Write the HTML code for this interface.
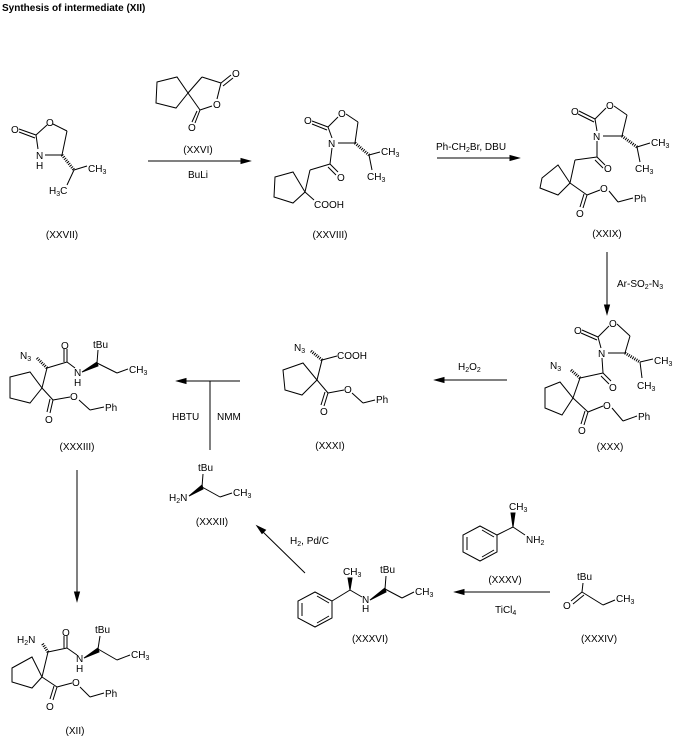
<!DOCTYPE html>
<html><head><meta charset="utf-8"><style>
body{margin:0;background:#fff}
svg{display:block}
text{font-family:"Liberation Sans",sans-serif;font-size:10px;fill:#000}
.l{text-anchor:middle}
line,polyline,polygon{stroke:#000;stroke-width:1;fill:none}
.w{fill:#000}
.h{stroke-dasharray:1 1.2;stroke-width:3}
</style></head><body>
<svg width="678" height="738" viewBox="0 0 678 738">
<text x="2" y="11" style="font-weight:bold;font-size:10px">Synthesis of intermediate (XII)</text>

<!-- XXVII -->
<text x="11" y="133">O</text>
<line x1="19" y1="129" x2="36" y2="135"/><line x1="19" y1="132" x2="35" y2="138"/>
<line x1="36" y1="135" x2="47" y2="125"/><line x1="53" y1="124" x2="67" y2="131"/>
<text x="46" y="126">O</text>
<line x1="67" y1="131" x2="62" y2="155"/><line x1="62" y1="155" x2="45" y2="155"/>
<line x1="36" y1="135" x2="38" y2="149"/>
<text x="36" y="159">N</text><text x="36" y="169">H</text>
<line class="h" x1="62" y1="155" x2="74" y2="170"/>
<line x1="74" y1="170" x2="87" y2="166"/><text x="88" y="172">CH<tspan font-size="7" dy="2">3</tspan></text>
<line x1="74" y1="170" x2="67" y2="185"/><text x="49" y="194">H<tspan font-size="7" dy="2">3</tspan><tspan dy="-2">C</tspan></text>
<text class="l" x="62" y="238">(XXVII)</text>

<!-- XXVI -->
<polygon points="157,82 177,77 188,93 176,108 156,103"/>
<line x1="188" y1="93" x2="202" y2="77"/><line x1="202" y1="77" x2="221" y2="83"/>
<line x1="221" y1="83" x2="231" y2="75"/><line x1="223" y1="86" x2="233" y2="78"/>
<text x="232" y="77">O</text>
<line x1="221" y1="83" x2="217" y2="99"/><text x="213" y="108">O</text>
<line x1="212" y1="106" x2="200" y2="110"/><line x1="188" y1="93" x2="200" y2="110"/>
<line x1="200" y1="110" x2="195" y2="123"/><line x1="197" y1="111" x2="192" y2="122"/>
<text x="188" y="131">O</text>
<text class="l" x="198" y="153">(XXVI)</text>
<line x1="148" y1="161" x2="247" y2="161"/><polygon class="w" points="250,161 241,158.5 241,163.5"/>
<text class="l" x="198" y="178">BuLi</text>

<!-- XXVIII -->
<text x="304" y="124">O</text>
<line x1="312" y1="121" x2="328" y2="127"/><line x1="312" y1="124" x2="327" y2="130"/>
<line x1="328" y1="127" x2="338" y2="117"/><text x="338" y="117">O</text>
<line x1="346" y1="114" x2="358" y2="122"/><line x1="358" y1="122" x2="355" y2="143"/>
<line x1="355" y1="143" x2="338" y2="143"/><line x1="328" y1="127" x2="332" y2="138"/>
<text x="328" y="147">N</text>
<line class="h" x1="355" y1="143" x2="369" y2="155"/>
<line x1="369" y1="155" x2="380" y2="152"/><text x="381" y="155">CH<tspan font-size="7" dy="2">3</tspan></text>
<line x1="369" y1="155" x2="372" y2="170"/><text x="367" y="180">CH<tspan font-size="7" dy="2">3</tspan></text>
<line x1="332" y1="148" x2="330" y2="164"/>
<line x1="330" y1="164" x2="338" y2="172"/><line x1="328" y1="167" x2="336" y2="175"/>
<text x="337" y="181">O</text>
<polygon points="275,177 293,172 305,192 293,203 274,197"/>
<line x1="305" y1="192" x2="310" y2="170"/><line x1="310" y1="170" x2="330" y2="164"/>
<line x1="305" y1="192" x2="314" y2="200"/><text x="314" y="208">COOH</text>
<text class="l" x="330" y="238">(XXVIII)</text>

<!-- arrow 2 -->
<text x="436" y="150">Ph-CH<tspan font-size="7" dy="2">2</tspan><tspan dy="-2">Br, DBU</tspan></text>
<line x1="437" y1="158" x2="516" y2="158"/><polygon class="w" points="519,158 510,155.5 510,160.5"/>

<!-- XXIX -->
<text x="571" y="115">O</text>
<line x1="579" y1="111" x2="595" y2="119"/><line x1="578" y1="114" x2="594" y2="122"/>
<line x1="595" y1="119" x2="606" y2="108"/><text x="606" y="109">O</text>
<line x1="614" y1="106" x2="627" y2="115"/><line x1="627" y1="115" x2="622" y2="136"/>
<line x1="622" y1="136" x2="603" y2="136"/><line x1="595" y1="119" x2="597" y2="131"/>
<text x="593" y="140">N</text>
<line class="h" x1="622" y1="136" x2="637" y2="147"/>
<line x1="637" y1="147" x2="650" y2="143"/><text x="651" y="146">CH<tspan font-size="7" dy="2">3</tspan></text>
<line x1="637" y1="147" x2="640" y2="162"/><text x="635" y="172">CH<tspan font-size="7" dy="2">3</tspan></text>
<line x1="597" y1="141" x2="597" y2="157"/>
<line x1="597" y1="157" x2="605" y2="165"/><line x1="595" y1="160" x2="603" y2="168"/>
<text x="604" y="172">O</text>
<line x1="597" y1="157" x2="575" y2="160"/><line x1="575" y1="160" x2="570" y2="183"/>
<polygon points="542,178 558,165 570,183 558,195 540,188"/>
<line x1="570" y1="183" x2="587" y2="195"/>
<line x1="587" y1="195" x2="583" y2="208"/><line x1="584" y1="194" x2="580" y2="207"/>
<text x="576" y="217">O</text>
<line x1="587" y1="195" x2="600" y2="190"/><text x="600" y="192">O</text>
<line x1="609" y1="191" x2="618" y2="202"/><line x1="618" y1="202" x2="633" y2="198"/>
<text x="634" y="202">Ph</text>
<text class="l" x="607" y="237">(XXIX)</text>

<!-- down arrow -->
<line x1="607" y1="252" x2="607" y2="310"/><polygon class="w" points="607,314 604.5,305 609.5,305"/>
<text x="617" y="287">Ar-SO<tspan font-size="7" dy="2">2</tspan><tspan dy="-2">-N</tspan><tspan font-size="7" dy="2">3</tspan></text>

<!-- XXX -->
<text x="574" y="334">O</text>
<line x1="582" y1="330" x2="598" y2="337"/><line x1="581" y1="333" x2="597" y2="340"/>
<line x1="598" y1="337" x2="609" y2="326"/><text x="609" y="327">O</text>
<line x1="617" y1="324" x2="630" y2="336"/><line x1="630" y1="336" x2="625" y2="353"/>
<line x1="625" y1="353" x2="608" y2="353"/><line x1="598" y1="337" x2="601" y2="348"/>
<text x="598" y="357">N</text>
<line class="h" x1="625" y1="353" x2="640" y2="362"/>
<line x1="640" y1="362" x2="653" y2="359"/><text x="654" y="364">CH<tspan font-size="7" dy="2">3</tspan></text>
<line x1="640" y1="362" x2="642" y2="378"/><text x="637" y="389">CH<tspan font-size="7" dy="2">3</tspan></text>
<line x1="602" y1="358" x2="603" y2="373"/>
<line x1="603" y1="373" x2="611" y2="381"/><line x1="601" y1="376" x2="609" y2="384"/>
<text x="609" y="391">O</text>
<line x1="603" y1="373" x2="580" y2="378"/>
<line class="h" x1="580" y1="378" x2="571" y2="370"/>
<text x="550" y="369">N<tspan font-size="7" dy="2">3</tspan></text>
<line x1="580" y1="378" x2="573" y2="398"/>
<polygon points="545,388 560,382 573,398 562,415 545,408"/>
<line x1="573" y1="398" x2="588" y2="412"/>
<line x1="588" y1="412" x2="584" y2="425"/><line x1="585" y1="411" x2="581" y2="424"/>
<text x="578" y="434">O</text>
<line x1="588" y1="412" x2="603" y2="406"/><text x="603" y="409">O</text>
<line x1="612" y1="408" x2="623" y2="421"/><line x1="623" y1="421" x2="637" y2="416"/>
<text x="638" y="420">Ph</text>
<text class="l" x="610" y="450">(XXX)</text>

<!-- H2O2 arrow -->
<text x="458" y="370">H<tspan font-size="7" dy="2">2</tspan><tspan dy="-2">O</tspan><tspan font-size="7" dy="2">2</tspan></text>
<line x1="507" y1="380" x2="438" y2="380"/><polygon class="w" points="435,380 444,377.5 444,382.5"/>

<!-- XXXI -->
<text x="294" y="351">N<tspan font-size="7" dy="2">3</tspan></text>
<line class="h" x1="322" y1="360" x2="311" y2="351"/>
<line x1="322" y1="360" x2="337" y2="356"/><text x="337" y="359">COOH</text>
<line x1="322" y1="360" x2="317" y2="380"/>
<polygon points="283,370 303,363 317,380 302,395 285,390"/>
<line x1="317" y1="380" x2="328" y2="393"/>
<line x1="328" y1="393" x2="324" y2="406"/><line x1="325" y1="392" x2="321" y2="405"/>
<text x="320" y="415">O</text>
<line x1="328" y1="393" x2="344" y2="390"/><text x="344" y="393">O</text>
<line x1="352" y1="393" x2="363" y2="403"/><line x1="363" y1="403" x2="375" y2="400"/>
<text x="376" y="403">Ph</text>
<text class="l" x="330" y="449">(XXXI)</text>

<!-- coupling arrow -->
<line x1="240" y1="381" x2="180" y2="381"/><polygon class="w" points="177,381 186,378.5 186,383.5"/>
<line x1="210" y1="381" x2="210" y2="450"/>
<text x="172" y="420">HBTU</text><text x="217" y="420">NMM</text>

<!-- XXXIII -->
<text x="20" y="359">N<tspan font-size="7" dy="2">3</tspan></text>
<line class="h" x1="47" y1="368" x2="37" y2="358"/>
<line x1="47" y1="368" x2="67" y2="362"/>
<line x1="67" y1="362" x2="67" y2="349"/><line x1="64" y1="362" x2="64" y2="349"/>
<text x="61" y="349">O</text>
<line x1="67" y1="362" x2="75" y2="368"/>
<text x="74" y="376">N</text><text x="74" y="386">H</text>
<polygon class="w" points="82,372 97,362 98,366"/>
<line x1="97" y1="363" x2="98" y2="350"/><text x="93" y="348">tBu</text>
<line x1="97" y1="363" x2="117" y2="373"/><line x1="117" y1="373" x2="128" y2="369"/>
<text x="129" y="373">CH<tspan font-size="7" dy="2">3</tspan></text>
<line x1="47" y1="368" x2="42" y2="388"/>
<polygon points="10,377 30,372 42,388 30,403 10,398"/>
<line x1="42" y1="388" x2="53" y2="400"/>
<line x1="53" y1="400" x2="50" y2="413"/><line x1="50" y1="399" x2="47" y2="412"/>
<text x="45" y="423">O</text>
<line x1="53" y1="400" x2="70" y2="397"/><text x="70" y="400">O</text>
<line x1="79" y1="400" x2="90" y2="410"/><line x1="90" y1="410" x2="104" y2="407"/>
<text x="105" y="411">Ph</text>
<text class="l" x="77" y="450">(XXXIII)</text>

<!-- down arrow to XII -->
<line x1="77" y1="470" x2="77" y2="597"/><polygon class="w" points="77,601 74.5,592 79.5,592"/>

<!-- XXXII -->
<text x="198" y="471">tBu</text>
<line x1="203" y1="474" x2="202" y2="487"/>
<text x="169" y="501">H<tspan font-size="7" dy="2">2</tspan><tspan dy="-2">N</tspan></text>
<polygon class="w" points="189,496 202,485 203,489"/>
<line x1="202" y1="487" x2="220" y2="497"/><line x1="220" y1="497" x2="232" y2="493"/>
<text x="233" y="496">CH<tspan font-size="7" dy="2">3</tspan></text>
<text class="l" x="212" y="525">(XXXII)</text>

<!-- H2 Pd/C arrow -->
<line x1="305" y1="573" x2="261" y2="530"/><polygon class="w" points="257,526 265.5,530 262,533.5"/>
<text x="290" y="544">H<tspan font-size="7" dy="2">2</tspan><tspan dy="-2">, Pd/C</tspan></text>

<!-- XXXVI -->
<polygon points="315,592 332,601 332,618 315,627 298,618 298,601"/>
<line x1="302" y1="603" x2="302" y2="616"/><line x1="317" y1="596" x2="329" y2="603"/><line x1="317" y1="623" x2="329" y2="616"/>
<line x1="332" y1="601" x2="350" y2="590"/>
<polygon class="w" points="350,590 348,578 352,578"/>
<text x="343" y="575">CH<tspan font-size="7" dy="2">3</tspan></text>
<line x1="350" y1="590" x2="362" y2="597"/>
<text x="362" y="603">N</text><text x="362" y="612">H</text>
<polygon class="w" points="370,600 385,588 386,592"/>
<line x1="385" y1="589" x2="386" y2="576"/><text x="380" y="573">tBu</text>
<line x1="385" y1="589" x2="402" y2="598"/><line x1="402" y1="598" x2="414" y2="592"/>
<text x="415" y="595">CH<tspan font-size="7" dy="2">3</tspan></text>
<text class="l" x="370" y="642">(XXXVI)</text>

<!-- TiCl4 arrow -->
<line x1="550" y1="592" x2="458" y2="592"/><polygon class="w" points="455,592 464,589.5 464,594.5"/>
<text x="495" y="613">TiCl<tspan font-size="7" dy="2">4</tspan></text>

<!-- XXXV -->
<polygon points="480,526 497,535 497,552 480,561 463,552 463,535"/>
<line x1="467" y1="537" x2="467" y2="550"/><line x1="482" y1="530" x2="494" y2="537"/><line x1="482" y1="557" x2="494" y2="550"/>
<line x1="497" y1="535" x2="513" y2="527"/>
<polygon class="w" points="513,527 511,513 515,513"/>
<text x="509" y="510">CH<tspan font-size="7" dy="2">3</tspan></text>
<line x1="513" y1="527" x2="525" y2="535"/>
<text x="526" y="543">NH<tspan font-size="7" dy="2">2</tspan></text>
<text class="l" x="505" y="583">(XXXV)</text>

<!-- XXXIV -->
<text x="577" y="580">tBu</text>
<line x1="583" y1="583" x2="582" y2="592"/>
<line x1="582" y1="592" x2="571" y2="601"/><line x1="584" y1="595" x2="573" y2="604"/>
<text x="563" y="609">O</text>
<line x1="582" y1="592" x2="603" y2="605"/><line x1="603" y1="605" x2="615" y2="600"/>
<text x="616" y="602">CH<tspan font-size="7" dy="2">3</tspan></text>
<text class="l" x="599" y="642">(XXXIV)</text>

<!-- XII -->
<text x="17" y="643">H<tspan font-size="7" dy="2">2</tspan><tspan dy="-2">N</tspan></text>
<line class="h" x1="48" y1="652" x2="42" y2="643"/>
<line x1="48" y1="652" x2="67" y2="648"/>
<line x1="67" y1="648" x2="67" y2="636"/><line x1="64" y1="648" x2="64" y2="636"/>
<text x="62" y="636">O</text>
<line x1="67" y1="648" x2="77" y2="655"/>
<text x="76" y="662">N</text><text x="76" y="672">H</text>
<polygon class="w" points="84,658 98,648 99,652"/>
<line x1="98" y1="649" x2="100" y2="636"/><text x="95" y="633">tBu</text>
<line x1="98" y1="649" x2="117" y2="660"/><line x1="117" y1="660" x2="130" y2="655"/>
<text x="131" y="658">CH<tspan font-size="7" dy="2">3</tspan></text>
<line x1="48" y1="652" x2="42" y2="677"/>
<polygon points="12,668 32,657 42,677 32,688 12,682"/>
<line x1="42" y1="677" x2="57" y2="687"/>
<line x1="57" y1="687" x2="53" y2="700"/><line x1="54" y1="686" x2="50" y2="699"/>
<text x="46" y="710">O</text>
<line x1="57" y1="687" x2="72" y2="683"/><text x="72" y="686">O</text>
<line x1="80" y1="687" x2="90" y2="697"/><line x1="90" y1="697" x2="104" y2="693"/>
<text x="105" y="697">Ph</text>
<text class="l" x="75" y="734">(XII)</text>
</svg>
</body></html>
